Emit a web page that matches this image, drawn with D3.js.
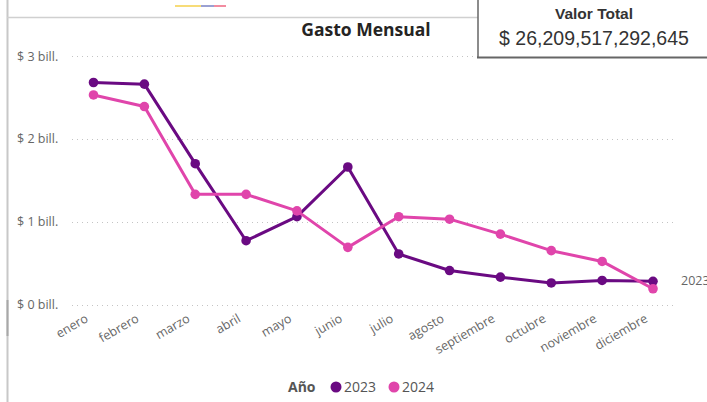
<!DOCTYPE html>
<html>
<head>
<meta charset="utf-8">
<style>
  body { margin: 0; background: #fff; }
  svg { display: block; font-family: "Open Sans", "Noto Sans", sans-serif; }
</style>
</head>
<body>
<svg id="chart" width="707" height="402"></svg>
<script src="https://cdn.jsdelivr.net/npm/d3@7"></script>
<script>
// monthly spend, in billones (10^12)
const months = ["enero", "febrero", "marzo", "abril", "mayo", "junio", "julio",
  "agosto", "septiembre", "octubre", "noviembre", "diciembre"]
const years = ["2023", "2024"]
const values2023 = [2.68, 2.66, 1.70, 0.77, 1.06, 1.66, 0.61, 0.41, 0.33, 0.26, 0.29, 0.28]
const values2024 = [2.53, 2.39, 1.33, 1.33, 1.13, 0.69, 1.06, 1.03, 0.85, 0.65, 0.52, 0.19]
const yTicks = [0, 1, 2, 3]
const colors = ["#6a0a82", "#e045ab"]
const totalLabel = "$ 26,209,517,292,645"

const svg = d3.select("#chart")

// frame bits of the report page
svg.append("line").attr("x1", 7.5).attr("x2", 7.5).attr("y1", 0).attr("y2", 402)
  .attr("stroke", "#c8c8c8").attr("stroke-width", 2)
svg.append("line").attr("x1", 7.5).attr("x2", 7.5).attr("y1", 300).attr("y2", 336)
  .attr("stroke", "#a8a8a8").attr("stroke-width", 2)
svg.append("line").attr("x1", 7).attr("x2", 478).attr("y1", 17.5).attr("y2", 17.5)
  .attr("stroke", "#d0d0d0").attr("stroke-width", 1.5)

// little colour strip at the top
let strip = [["#f7dc78", 175, 201], ["#9aa0d2", 201, 214], ["#f28ca0", 214, 226]]
svg.selectAll(".strip").data(strip).enter().append("line")
  .attr("x1", d => d[1]).attr("x2", d => d[2]).attr("y1", 6).attr("y2", 6)
  .attr("stroke", d => d[0]).attr("stroke-width", 2)

let x = d3.scalePoint().domain(months).range([93.5, 653])
let y = d3.scaleLinear().domain([0, 3]).range([304.5, 56])

// gridlines
svg.append("g").selectAll("line").data(yTicks).enter().append("line")
  .attr("x1", 72).attr("x2", 676)
  .attr("y1", d => Math.round(y(d)) + 0.5).attr("y2", d => Math.round(y(d)) + 0.5)
  .attr("stroke", "#c4c4c4").attr("stroke-dasharray", "1,4")

// y axis labels
let yAxis = d3.axisLeft(y).tickValues(yTicks).tickSize(0).tickPadding(0)
  .tickFormat(d => "$ " + d + " bill.")
let yg = svg.append("g").attr("transform", "translate(17,0)").call(yAxis)
yg.select(".domain").remove()
yg.selectAll("text").attr("text-anchor", "start").attr("fill", "#666")
  .style("font-size", "12.5px").style("font-family", "'Open Sans', sans-serif")

// x axis labels, rotated
let xAxis = d3.axisBottom(x).tickSize(0)
let xg = svg.append("g").attr("transform", "translate(0,305)").call(xAxis)
xg.select(".domain").remove()
xg.selectAll("text")
  .attr("text-anchor", "end").attr("fill", "#666")
  .attr("dy", 0).attr("y", 0)
  .attr("transform", "translate(-5,16) rotate(-30)")
  .style("font-size", "12.5px").style("font-family", "'Open Sans', sans-serif")

// lines + dots
let series = [values2023, values2024]
let line = d3.line().x((d, i) => x(months[i])).y(d => y(d))
series.forEach((vals, k) => {
  svg.append("path").datum(vals).attr("d", line)
    .attr("fill", "none").attr("stroke", colors[k]).attr("stroke-width", 3)
    .attr("stroke-linejoin", "round")
  svg.append("g").selectAll("circle").data(vals).enter().append("circle")
    .attr("cx", (d, i) => x(months[i])).attr("cy", d => y(d)).attr("r", 4.8)
    .attr("fill", colors[k])
})

// end label for 2023 (clipped by the window)
svg.append("text").attr("x", x("diciembre") + 28).attr("y", y(values2023[11]) + 4)
  .attr("fill", "#666").style("font-size", "12.5px").text("2023")

// title
svg.append("text").attr("x", 366).attr("y", 36).attr("text-anchor", "middle")
  .attr("fill", "#252423").style("font-size", "17.5px").style("font-weight", "bold")
  .style("font-family", "'Open Sans', sans-serif").text("Gasto Mensual")

// legend
let lg = svg.append("g").attr("transform", "translate(0,387)")
lg.append("text").attr("x", 288).attr("y", 5).attr("fill", "#555")
  .style("font-size", "14px").style("font-weight", "bold").text("Año")
years.forEach((yr, k) => {
  let lx = 336 + k * 58
  lg.append("circle").attr("cx", lx).attr("cy", 0).attr("r", 5.5).attr("fill", colors[k])
  lg.append("text").attr("x", lx + 8).attr("y", 5).attr("fill", "#555")
    .style("font-size", "14px").text(yr)
})

// card: Valor Total
let card = svg.append("g")
card.append("rect").attr("x", 478).attr("y", -2).attr("width", 240).attr("height", 59)
  .attr("fill", "#fff")
card.append("line").attr("x1", 478).attr("x2", 478).attr("y1", 0).attr("y2", 58)
  .attr("stroke", "#666").attr("stroke-width", 1.5)
card.append("line").attr("x1", 477).attr("x2", 707).attr("y1", 57.5).attr("y2", 57.5)
  .attr("stroke", "#666").attr("stroke-width", 2)
card.append("text").attr("x", 594).attr("y", 19).attr("text-anchor", "middle")
  .attr("fill", "#333").style("font-family", "'Liberation Sans', Arial, sans-serif")
  .style("font-size", "15.5px").style("font-weight", "bold").text("Valor Total")
card.append("text").attr("x", 594).attr("y", 45).attr("text-anchor", "middle")
  .attr("fill", "#333").style("font-family", "'Liberation Sans', Arial, sans-serif")
  .style("font-size", "19.5px").text(totalLabel)
</script>
</body>
</html>
